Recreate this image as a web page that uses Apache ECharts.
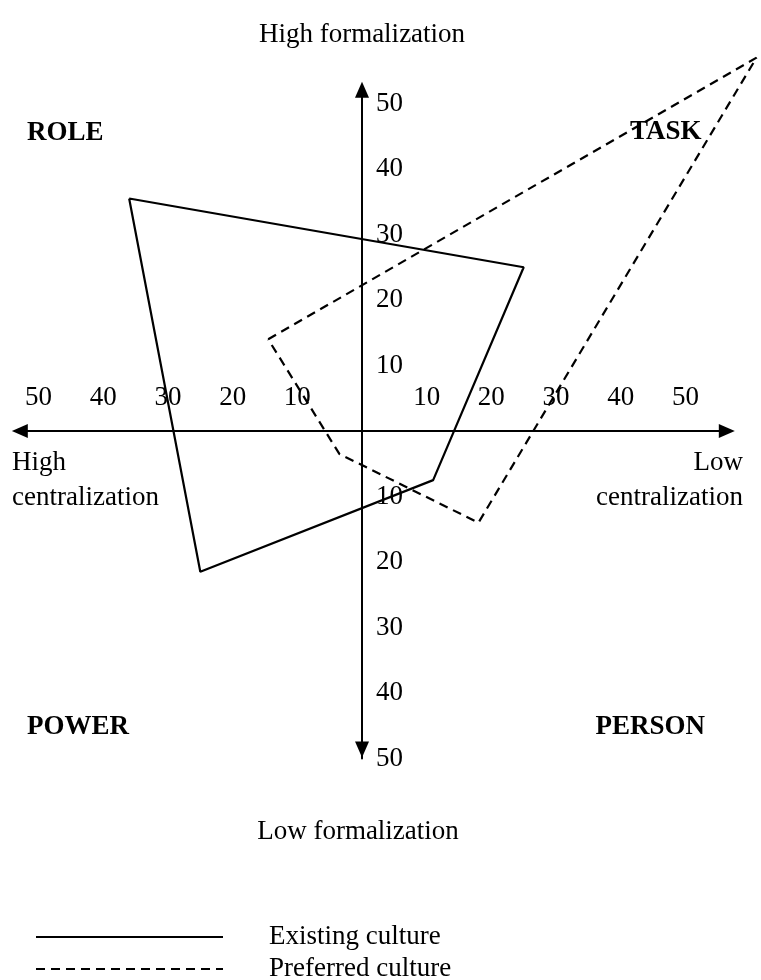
<!DOCTYPE html>
<html>
<head>
<meta charset="utf-8">
<script src="https://cdn.jsdelivr.net/npm/echarts@6/dist/echarts.min.js"></script>
<style>
  html, body { margin: 0; padding: 0; background: #fff; }
  #chart { width: 761px; height: 980px; }
</style>
</head>
<body>
<div id="chart"></div>
<script>
// tick labels on both arms of each axis (shown as absolute values)
const tickValues = [-50, -40, -30, -20, -10, 10, 20, 30, 40, 50];

// polygons, closed by repeating the first vertex
const existingCulture = [[-36, 35.5], [25, 25], [11, -7.5], [-25, -21.5], [-36, 35.5]];
const preferredCulture = [[-14.5, 14], [61, 57], [18, -14], [-3.5, -3.5], [-14.5, 14]];

const seriesNames = ["Existing culture", "Preferred culture"];

const serif = "Liberation Serif, Times New Roman, serif";
const W = 761, H = 980;

// where the axes cross and how many pixels one unit takes
const originX = 362, originY = 431;
const pxX = 6.468, pxY = 6.55;

// extent of the visible arrow axes
const xRange = [-52.9, 56.4];
const yRange = [-50, 52.1];

const axisBox = {
  left: originX + xRange[0] * pxX,
  right: W - (originX + xRange[1] * pxX),
  top: originY - yRange[1] * pxY,
  bottom: H - (originY - yRange[0] * pxY),
};
// same scale on the full canvas, so the polygons are never clipped
const fullX = [-originX / pxX, (W - originX) / pxX];
const fullY = [-(H - originY) / pxY, originY / pxY];

const chart = echarts.init(document.getElementById("chart"));

function visibleAxis(range, offset, margin, arrowOffset) {
  return {
    type: "value",
    gridIndex: 0,
    min: range[0],
    max: range[1],
    offset: offset,
    axisLine: {
      onZero: false,
      symbol: ["triangle", "triangle"],
      symbolSize: [14, 16],
      symbolOffset: arrowOffset,
      lineStyle: { color: "#000", width: 2 },
    },
    axisTick: { show: false },
    splitLine: { show: false },
    axisLabel: {
      inside: true,
      margin: margin,
      customValues: tickValues,
      formatter: (v) => String(Math.abs(v)),
      color: "#000",
      fontFamily: serif,
      fontSize: 27,
    },
  };
}

function hiddenAxis(range) {
  return { type: "value", gridIndex: 1, min: range[0], max: range[1], show: false };
}

const option = {
  animation: false,
  backgroundColor: "#fff",
  grid: [
    axisBox,
    { left: 0, right: 0, top: 0, bottom: 0 },
  ],
  xAxis: [
    visibleAxis(xRange, -(H - axisBox.bottom - originY), 20, [0, 0]),
    hiddenAxis(fullX),
  ],
  yAxis: [
    visibleAxis(yRange, -(originX - axisBox.left), 14, [9, 0]),
    hiddenAxis(fullY),
  ],
  legend: {
    orient: "vertical",
    left: 35,
    top: 921,
    height: 80,
    padding: 0,
    itemWidth: 187,
    itemHeight: 14,
    itemGap: 0,
    itemStyle: { opacity: 0 },
    textStyle: {
      fontFamily: serif,
      fontSize: 27,
      lineHeight: 10,
      color: "#000",
      padding: [0, 0, 22, 41],
    },
    data: seriesNames,
  },
  series: [
    {
      name: seriesNames[0],
      type: "line",
      xAxisIndex: 1,
      yAxisIndex: 1,
      data: existingCulture,
      symbol: "none",
      lineStyle: { color: "#000", width: 2.2, type: "solid" },
      itemStyle: { color: "#000" },
    },
    {
      name: seriesNames[1],
      type: "line",
      xAxisIndex: 1,
      yAxisIndex: 1,
      data: preferredCulture,
      symbol: "none",
      lineStyle: { color: "#000", width: 2.2, type: [9, 6] },
      itemStyle: { color: "#000" },
    },
  ],
  graphic: [
    { type: "text", x: 362, y: 35, style: { text: "High formalization", font: "27px " + serif, fill: "#000", align: "center", verticalAlign: "middle" } },
    { type: "text", x: 358, y: 832, style: { text: "Low formalization", font: "27px " + serif, fill: "#000", align: "center", verticalAlign: "middle" } },
    { type: "text", x: 27, y: 133, style: { text: "ROLE", font: "bold 27px " + serif, fill: "#000", verticalAlign: "middle" } },
    { type: "text", x: 630, y: 132, style: { text: "TASK", font: "bold 27px " + serif, fill: "#000", verticalAlign: "middle" } },
    { type: "text", x: 27, y: 727, style: { text: "POWER", font: "bold 27px " + serif, fill: "#000", verticalAlign: "middle" } },
    { type: "text", x: 705, y: 727, style: { text: "PERSON", font: "bold 27px " + serif, fill: "#000", align: "right", verticalAlign: "middle" } },
    { type: "text", x: 12, y: 462, style: { text: "High\ncentralization", font: "27px " + serif, fill: "#000", lineHeight: 35, verticalAlign: "top", padding: [-17, 0, 0, 0] } },
    { type: "text", x: 743, y: 462, style: { text: "Low\ncentralization", font: "27px " + serif, fill: "#000", align: "right", lineHeight: 35, verticalAlign: "top", padding: [-17, 0, 0, 0] } },
  ],
};

chart.setOption(option);
</script>
</body>
</html>
